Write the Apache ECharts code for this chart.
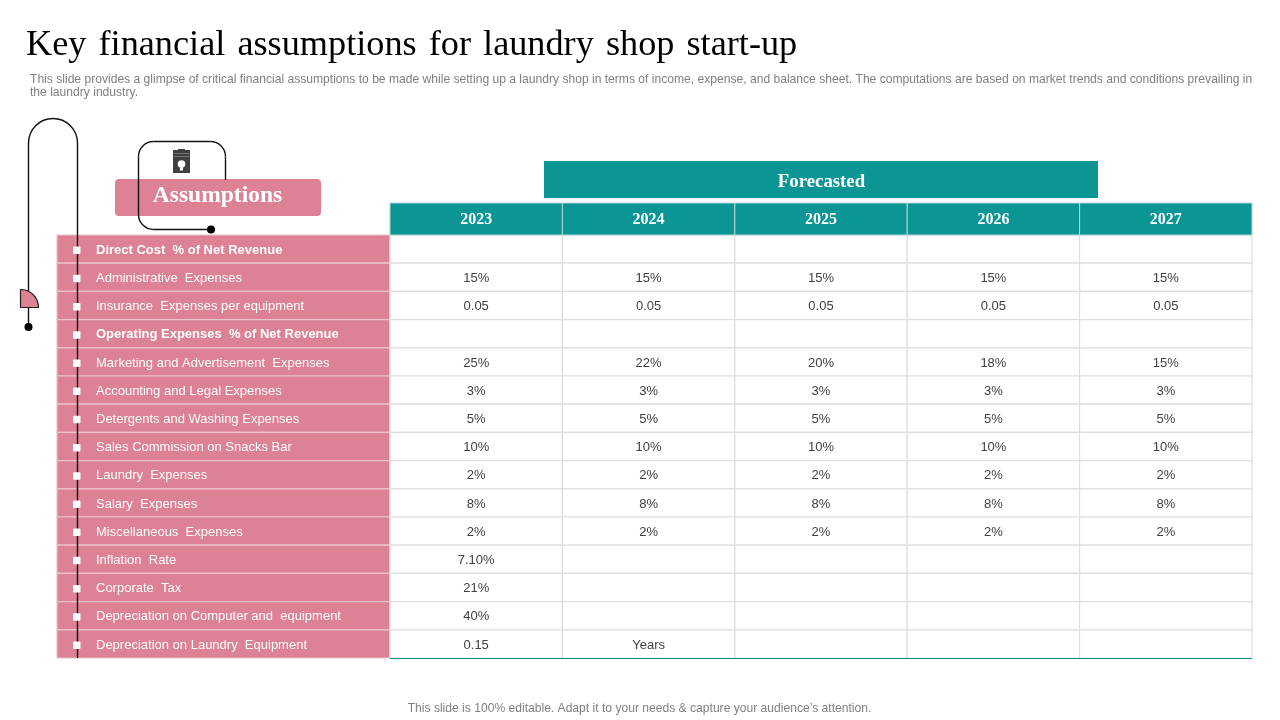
<!DOCTYPE html>
<html><head><meta charset="utf-8">
<style>html,body{margin:0;padding:0;background:#fff}#c{width:1280px;height:720px}</style>
<script src="https://cdn.jsdelivr.net/npm/echarts@6/dist/echarts.min.js"></script>
</head><body><div id="c"></div>
<script>
const titleText = 'Key \u200Afinancial \u200Aassumptions \u200Afor \u200Alaundry \u200Ashop \u200Astart-up';
const subtitle1 = 'This slide provides a glimpse of critical financial assumptions to be made while setting up a laundry shop in terms of income, expense, and balance sheet. The computations are based on market trends and conditions prevailing in';
const subtitle2 = 'the laundry industry.';
const footer = 'This slide is 100% editable. Adapt it to your needs & capture your audience\u2019s attention.';
const years = ['2023','2024','2025','2026','2027'];
const rowLabels = ['Direct Cost  % of Net Revenue','Administrative  Expenses','Insurance  Expenses per equipment','Operating Expenses  % of Net Revenue','Marketing and Advertisement  Expenses','Accounting and Legal Expenses','Detergents and Washing Expenses','Sales Commission on Snacks Bar','Laundry  Expenses','Salary  Expenses','Miscellaneous  Expenses','Inflation  Rate','Corporate  Tax','Depreciation on Computer and  equipment','Depreciation on Laundry  Equipment'];
const boldRows = [0,3];
const v2023 = ['','15%','0.05','','25%','3%','5%','10%','2%','8%','2%','7.10%','21%','40%','0.15'];
const v2024 = ['','15%','0.05','','22%','3%','5%','10%','2%','8%','2%','','','','Years'];
const v2025 = ['','15%','0.05','','20%','3%','5%','10%','2%','8%','2%','','','',''];
const v2026 = ['','15%','0.05','','18%','3%','5%','10%','2%','8%','2%','','','',''];
const v2027 = ['','15%','0.05','','15%','3%','5%','10%','2%','8%','2%','','','',''];
const columns = [v2023,v2024,v2025,v2026,v2027];

const PINK='#DD8194', TEAL='#0B9595', GRID='#DEDEDE', TXT='#404040', SERIF='"Liberation Serif"', SANS='"Liberation Sans"', INK='#111';
const cellData=[]; columns.forEach((col,c)=>col.forEach((t,r)=>cellData.push({value:[c,r],t})));

function cellRect(api){const p=api.coord([api.value(0),api.value(1)]),s=api.size([1,1]);return {x:p[0]-s[0]/2,y:p[1]-s[1]/2,width:s[0],height:s[1],cx:p[0],cy:p[1]};}
const ln=(x1,y1,x2,y2,z)=>({type:'line',z:z,silent:true,shape:{x1,y1,x2,y2},style:{stroke:INK,lineWidth:1.4}});
const arc=(cx,cy,r,a0,a1,z)=>({type:'arc',z:z,silent:true,shape:{cx,cy,r,startAngle:a0,endAngle:a1,clockwise:true},style:{fill:'none',stroke:INK,lineWidth:1.4}});
const PI=Math.PI;

const chart=echarts.init(document.getElementById('c'),null,{renderer:'canvas'});
const hidden={show:false};
chart.setOption({
 animation:false,backgroundColor:'#fff',
 grid:[
  {left:57,top:235,width:333,height:423},
  {left:390,top:235,width:862,height:423},
  {left:390,top:203,width:862,height:32}
 ],
 xAxis:[
  {gridIndex:0,type:'category',data:['Assumptions'],...hidden},
  {gridIndex:1,type:'category',data:years,...hidden},
  {gridIndex:2,type:'category',data:years,...hidden}
 ],
 yAxis:[
  {gridIndex:0,type:'category',data:rowLabels,inverse:true,...hidden},
  {gridIndex:1,type:'category',data:rowLabels,inverse:true,...hidden},
  {gridIndex:2,type:'category',data:['Year'],...hidden}
 ],
 series:[
  {type:'custom',xAxisIndex:0,yAxisIndex:0,z:1,silent:true,clip:false,encode:{x:0,y:1},
   data:rowLabels.map((_,i)=>[0,i]),
   renderItem(p,api){const r=cellRect(api);const i=p.dataIndex;return {type:'group',children:[
     {type:'rect',shape:{x:r.x,y:r.y,width:r.width,height:r.height},style:{fill:PINK,stroke:'#E9C3CB',lineWidth:1.2}},
     {type:'text',style:{text:rowLabels[i],x:96,y:r.cy+1.2,fill:'#fff',fontFamily:SANS,fontSize:13,fontWeight:boldRows.includes(i)?'bold':'normal',align:'left',verticalAlign:'middle'}}
   ]};}},
  {type:'custom',xAxisIndex:0,yAxisIndex:0,z:5,silent:true,clip:false,encode:{x:0,y:1},
   data:rowLabels.map((_,i)=>[0,i]),
   renderItem(p,api){const r=cellRect(api);return {type:'rect',shape:{x:73,y:r.cy-2.5,width:7.5,height:7.5,r:1},style:{fill:'#fff'}};}},
  {type:'custom',xAxisIndex:1,yAxisIndex:1,z:1,silent:true,clip:false,encode:{x:0,y:1},
   data:cellData,
   renderItem(p,api){const r=cellRect(api);const t=cellData[p.dataIndex].t;return {type:'group',children:[
     {type:'rect',shape:{x:r.x,y:r.y,width:r.width,height:r.height},style:{fill:'#fff',stroke:GRID,lineWidth:1.2}},
     {type:'text',style:{text:t,x:r.cx,y:r.cy+1.2,fill:TXT,fontFamily:SANS,fontSize:13,align:'center',verticalAlign:'middle'}}
   ]};}},
  {type:'custom',xAxisIndex:2,yAxisIndex:2,z:1,silent:true,clip:false,encode:{x:0,y:1},
   data:years.map((_,i)=>[i,0]),
   renderItem(p,api){const r=cellRect(api);return {type:'group',children:[
     {type:'rect',shape:{x:r.x,y:r.y,width:r.width,height:r.height},style:{fill:TEAL,stroke:'#B5D5D5',lineWidth:1}},
     {type:'text',style:{text:years[p.dataIndex],x:r.cx,y:r.cy+1,fill:'#fff',fontFamily:SERIF,fontSize:16,fontWeight:'bold',align:'center',verticalAlign:'middle'}}
   ]};}}
 ],
 graphic:{elements:[
  {type:'text',z:10,silent:true,style:{text:titleText,x:26,y:45,fill:'#000',fontFamily:SERIF,fontSize:36.25,align:'left',verticalAlign:'middle'}},
  {type:'text',z:10,silent:true,style:{text:subtitle1,x:30,y:79.5,fill:'#7F7F7F',fontFamily:SANS,fontSize:12.1,align:'left',verticalAlign:'middle'}},
  {type:'text',z:10,silent:true,style:{text:subtitle2,x:30,y:92.5,fill:'#7F7F7F',fontFamily:SANS,fontSize:12.1,align:'left',verticalAlign:'middle'}},
  {type:'text',z:10,silent:true,style:{text:footer,x:639.5,y:709,fill:'#7F7F7F',fontFamily:SANS,fontSize:12.1,align:'center',verticalAlign:'middle'}},
  {type:'rect',z:2,silent:true,shape:{x:544,y:161,width:554,height:37},style:{fill:TEAL}},
  {type:'text',z:3,silent:true,style:{text:'Forecasted',x:821.5,y:182,fill:'#fff',fontFamily:SERIF,fontSize:18.8,fontWeight:'bold',align:'center',verticalAlign:'middle'}},
  {type:'rect',z:2,silent:true,shape:{x:115,y:179,width:206,height:37,r:4},style:{fill:PINK}},
  ln(225.5,180,225.5,156.5,3),
  arc(210.5,156.5,15,-PI/2,0,3),
  ln(153.5,141.5,210.5,141.5,3),
  arc(153.5,156.5,15,PI,PI*1.5,3),
  ln(138.5,156.5,138.5,214.5,3),
  arc(153.5,214.5,15,PI/2,PI,3),
  ln(153.5,229.5,211,229.5,3),
  {type:'circle',z:3,silent:true,shape:{cx:211,cy:229.5,r:4},style:{fill:'#000'}},
  {type:'text',z:4,silent:true,style:{text:'Assumptions',x:217.5,y:196,fill:'#fff',fontFamily:SERIF,fontSize:23.5,fontWeight:'bold',align:'center',verticalAlign:'middle'}},
  {type:'rect',z:3,silent:true,shape:{x:173,y:150,width:17,height:23},style:{fill:'#404040'}},
  {type:'rect',z:4,silent:true,shape:{x:178,y:149,width:7,height:2},style:{fill:'#404040'}},
  {type:'rect',z:4,silent:true,shape:{x:174,y:153,width:15,height:0.6},style:{fill:'#999'}},
  {type:'rect',z:4,silent:true,shape:{x:174,y:156,width:15,height:0.6},style:{fill:'#999'}},
  {type:'circle',z:4,silent:true,shape:{cx:181.5,cy:164,r:3.8},style:{fill:'#fff'}},
  {type:'rect',z:4,silent:true,shape:{x:180,y:167,width:3,height:3.5},style:{fill:'#fff'}},
  ln(28.5,327,28.5,143,3),
  arc(53,143,24.5,PI,PI*2,3),
  ln(77.5,143,77.5,658,3),
  {type:'sector',z:4,silent:true,shape:{cx:20.5,cy:307.5,r0:0,r:18,startAngle:-PI/2,endAngle:0,clockwise:true},style:{fill:PINK,stroke:'#222',lineWidth:1.2}},
  {type:'circle',z:4,silent:true,shape:{cx:28.5,cy:327,r:4},style:{fill:'#000'}},
  {type:'line',z:4,silent:true,shape:{x1:390,y1:658.5,x2:1252,y2:658.5},style:{stroke:TEAL,lineWidth:1.2}}
 ]}
});
</script></body></html>
